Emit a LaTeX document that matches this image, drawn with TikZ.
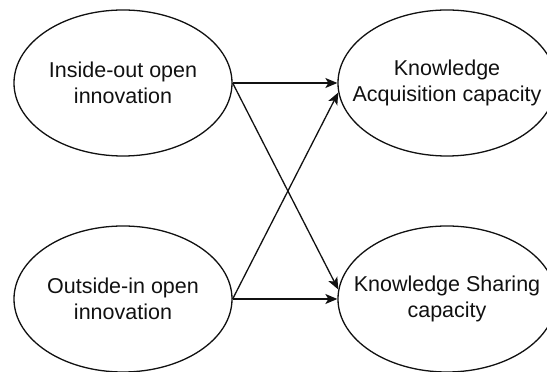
\documentclass[tikz,border=0pt]{standalone}
\usepackage{fontspec}
\setmainfont{Liberation Sans}
\usetikzlibrary{arrows.meta,shapes.geometric}
\definecolor{cInk}{HTML}{111111}

\begin{document}
\begin{tikzpicture}[
  x=1pt,y=1pt,
  font=\fontsize{21.5}{26}\selectfont,
  oval/.style={ellipse,draw=cInk,line width=1.3pt,minimum width=218pt,
    minimum height=146pt,inner sep=0pt},
  txt/.style={align=center,text=cInk,inner sep=0pt},
  ar/.style={-{Stealth[length=12pt,width=10pt,inset=3pt]},line width=1.3pt,color=cInk},
]
\useasboundingbox (0,0) rectangle (547,372);

% ============================================================ open innovation
\node[oval] (inout) at (123,289) {};
\node[txt] at (inout) {Inside-out open\\innovation};
\node[oval] (outin) at (123,73) {};
\node[txt] at (outin) {Outside-in open\\innovation};

% ============================================================ knowledge capacities
\node[oval] (acq) at (447,289) {};
\node[txt] at (acq) {Knowledge\\Acquisition capacity};
\node[oval] (shr) at (447,73) {};
\node[txt] at (shr) {Knowledge Sharing\\capacity};

% ============================================================ paths
\draw[ar] (inout.east) -- (acq.west);
\draw[ar] (inout.east) -- (shr.175);
\draw[ar] (outin.east) -- (acq.185);
\draw[ar] (outin.east) -- (shr.west);
\end{tikzpicture}
\end{document}
